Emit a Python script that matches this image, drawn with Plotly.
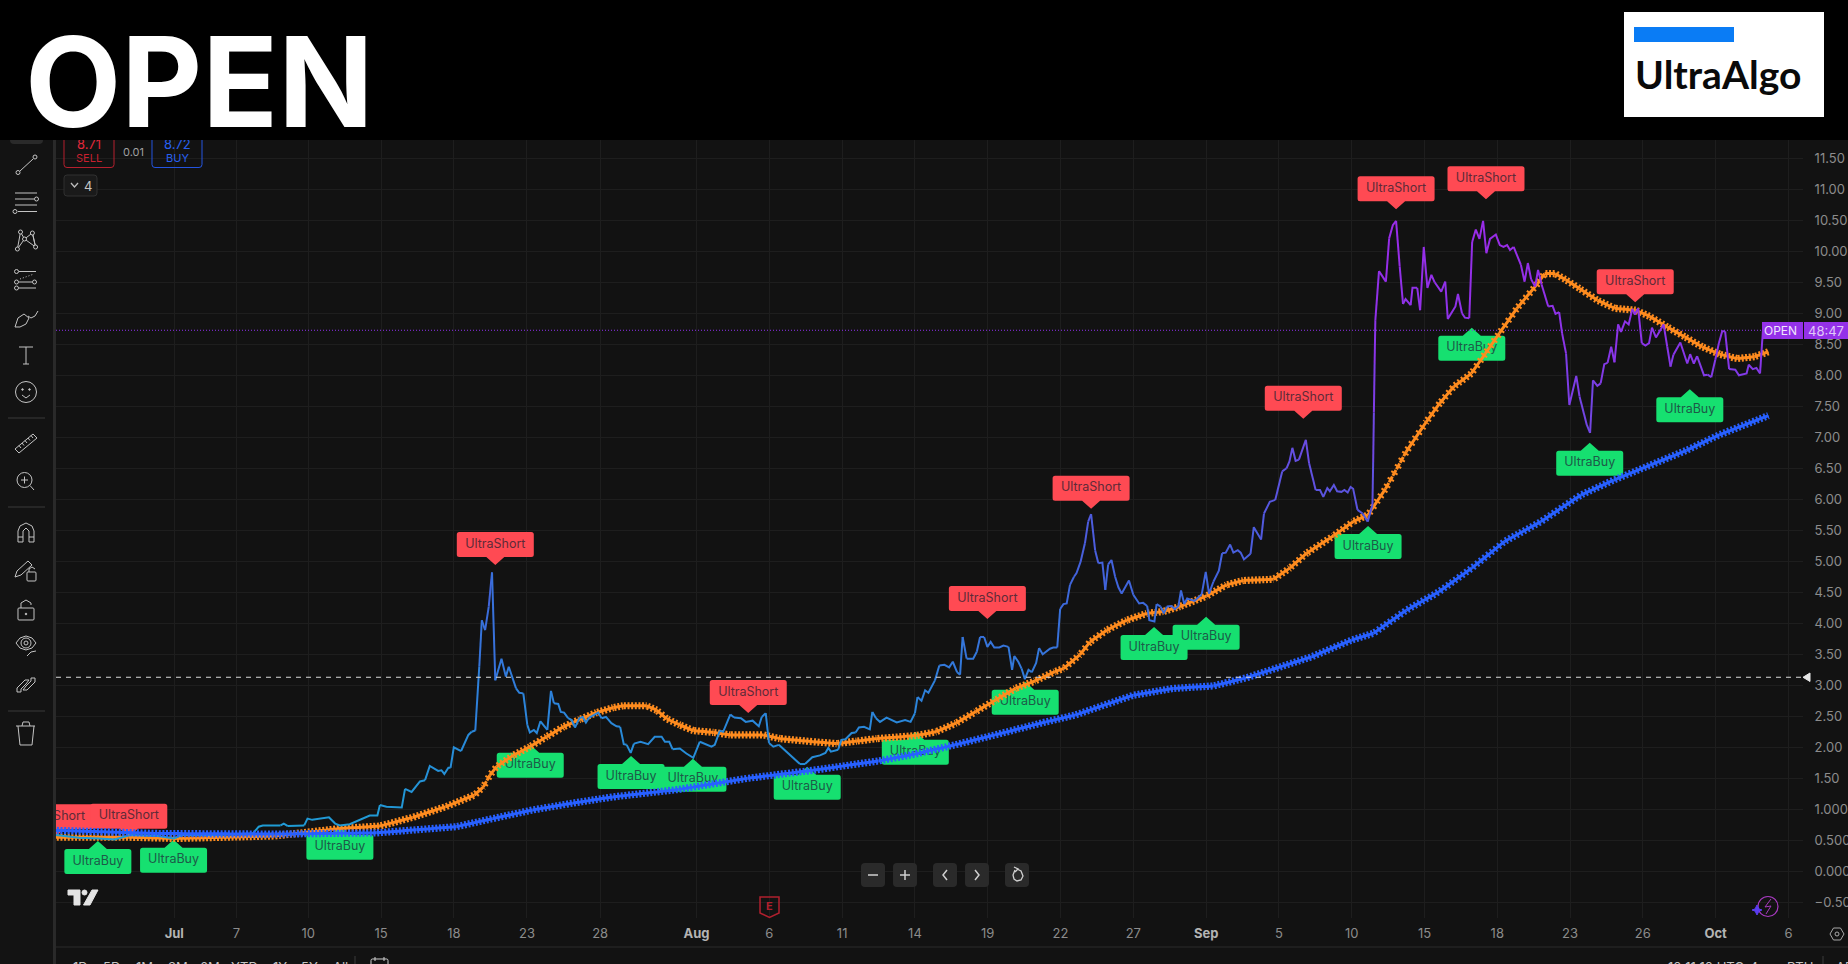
import numpy as np
import plotly.graph_objects as go

W, H = 1848, 964
BG = '#121212'
GRID = '#1e1e1e'
ICON = '#c4c4c4'

# time axis, in bars from the left edge of the chart
tick_bars = [32.5, 49.6, 69.3, 89.3, 109.3, 129.4, 149.5, 176, 196, 216, 236, 256, 276, 296, 316,
             336, 356, 376, 396, 416, 436, 456, 476]
tick_names = ['Jul', '7', '10', '15', '18', '23', '28', 'Aug', '6', '11', '14', '19', '22', '27', 'Sep',
              '5', '10', '15', '18', '23', '26', 'Oct', '6']
month_names = ['Jul', 'Aug', 'Sep', 'Oct']

price_ticks = [-0.5, 0, 0.5, 1, 1.5, 2, 2.5, 3, 3.5, 4, 4.5, 5, 5.5, 6, 6.5, 7, 7.5, 8, 8.5, 9, 9.5, 10, 10.5, 11, 11.5]
price_tick_names = ['−0.5000', '0.0000', '0.5000', '1.0000', '1.50', '2.00', '2.50', '3.00', '3.50', '4.00', '4.50',
                    '5.00', '5.50', '6.00', '6.50', '7.00', '7.50', '8.00', '8.50', '9.00', '9.50', '10.00',
                    '10.50', '11.00', '11.50']

# price line, read vertex by vertex
price_bars = [
    0, 6.3, 11.8, 16.1, 20.4, 28, 32.4, 34.6, 43.3, 54.1, 55.7, 56.8, 61.7, 62.6, 63.7, 68.2, 69.1, 70.4, 72.6, 75,
    76.7, 78, 80.7, 83.4, 86.2, 88.3, 89, 90.8, 95, 95.9, 97.7, 100, 101.4, 102.7, 105, 105.9, 106.7, 107.8, 108.4,
    109.3, 111.3, 113.3, 114.2, 115.2, 116.3, 117, 117.9, 118.9, 119.8, 120.7, 122.4, 123.6, 124.4, 126.4, 127.3,
    128.4, 129.5, 130.2, 131.3, 132.1, 133.1, 135, 136, 136.8, 138, 138.7, 139.6, 140.7, 141.7, 142.6, 143.8, 144.7,
    145.6, 146.5, 147.8, 149, 149.9, 151.1, 152.6, 154, 155, 156, 156.8, 157.9, 158.8, 160.6, 162.7, 164.5, 166.4,
    167.3, 168.5, 169.4, 171.4, 173.2, 175.1, 176.9, 180.1, 181, 182.4, 183.3, 185.3, 186.3, 188.2, 189.5, 191.4,
    193.1, 193.9, 195, 195.9, 197.1, 198.6, 201.2, 204.4, 205.8, 207.8, 209.9, 211.4, 212.2, 212.9, 214.9, 215.8,
    216.9, 218.6, 219.7, 220.6, 222, 223.6, 224.3, 225.3, 226.4, 228.2, 231, 233.3, 234.8, 236, 236.7, 237.8, 238.8,
    239.7, 241.5, 242.7, 244.1, 245.4, 246.4, 247.6, 248.4, 249.1, 250.2, 252, 253, 253.9, 255, 255.9, 256.8, 257.8,
    259.2, 260.3, 261.7, 262.7, 263.3, 264.4, 265.3, 266.2, 267.2, 268.1, 269.3, 270.1, 271.1, 273.1, 274, 275.1,
    275.9, 276.8, 277.7, 278.6, 279.7, 280.4, 281.5, 282.7, 283.6, 284.4, 285.5, 286.4, 287.5, 288.3, 289.1, 290,
    291, 291.9, 292.8, 294.8, 296, 297.6, 298.7, 299.8, 300.4, 301.8, 302.4, 303.5, 304.4, 305.2, 306.5, 307.4,
    308.4, 309.1, 310, 310.8, 312.8, 314.8, 315.9, 316.8, 318, 319.5, 320.4, 321.4, 322.6, 323.5, 324.7, 325.5,
    326.4, 328.2, 329.1, 331.1, 331.9, 333.5, 335, 336.9, 338.1, 338.9, 339.7, 340.6, 341.5, 343.4, 344.3, 346.1,
    347.3, 348.2, 349.3, 350, 351.1, 352, 353.2, 354, 354.9, 355.7, 356.4, 357.6, 359, 360.4, 361.7, 361.9, 362.1,
    362.3, 362.5, 363.5, 365.4, 366.3, 367.3, 368.2, 369.2, 370.1, 370.8, 372.2, 372.7, 374, 374.8, 375.8, 376.8,
    377.9, 378.8, 380.6, 381.7, 382.4, 384.5, 385.2, 386.3, 387.1, 388.3, 389.1, 390.1, 391.1, 392.1, 393, 394,
    395.6, 396.7, 397.7, 398.7, 399.5, 400.5, 402.5, 403.5, 404.4, 405.3, 406.4, 407.2, 408.2, 410, 411.2, 412, 413,
    413.8, 414.9, 415.8, 417.7, 418.6, 420.6, 421.5, 422.3, 423.5, 424.4, 425.4, 426.3, 427.3, 428.2, 429.2, 430,
    431.1, 432.1, 433.1, 433.8, 434.7, 435.7, 436.7, 437.7, 438.5, 439.6, 441.7, 442.7, 443.6, 444.4, 446.3, 448.2,
    449, 450, 450.9, 452.8, 453.8, 454.8, 455.9, 456.9, 457.8, 458.6, 459.7, 461.4, 462.4, 464.5, 465.1, 466.2,
    467.2, 468.2, 469]
price_vals = [
    0.585, 0.54, 0.53, 0.515, 0.585, 0.57, 0.53, 0.585, 0.585, 0.61, 0.72, 0.74, 0.74, 0.77, 0.73, 0.74, 0.85, 0.83, 0.85, 0.87,
    0.77, 0.74, 0.76, 0.83, 0.90, 0.90, 1.07, 1.04, 1.03, 1.33, 1.28, 1.45, 1.47, 1.70, 1.62, 1.63, 1.57, 1.67, 1.67,
    2.00, 1.94, 2.20, 2.25, 2.27, 3.30, 4.05, 3.89, 4.27, 4.82, 3.08, 3.43, 3.14, 3.30, 2.95, 2.88,
    2.87, 2.36, 2.24, 2.28, 2.23, 2.42, 2.28, 2.91, 2.71, 2.70, 2.57, 2.56, 2.47, 2.44, 2.32, 2.47, 2.49,
    2.40, 2.48, 2.52, 2.56, 2.47, 2.49, 2.39, 2.34, 2.33, 2.05, 2.04, 1.91, 2.06, 2.09, 2.05, 2.17, 2.17,
    2.09, 2.09, 1.97, 1.98, 1.90, 1.83, 2.09, 2.01, 2.04, 2.27, 2.25, 2.53, 2.48, 2.47, 2.41, 2.43,
    2.34, 2.49, 2.55, 2.07, 2.01, 2.04, 1.90, 1.73, 1.73, 1.84, 1.87, 1.91, 1.99, 1.93, 1.96, 2.12,
    2.13, 2.23, 2.24, 2.32, 2.33, 2.29, 2.57, 2.47, 2.41, 2.48, 2.40, 2.44, 2.41, 2.55, 2.81, 2.75, 2.92,
    2.88, 3.08, 3.32, 3.33, 3.29, 3.38, 3.21, 3.17, 3.78, 3.43, 3.43, 3.54, 3.78, 3.78, 3.62, 3.70, 3.61,
    3.61, 3.64, 3.62, 3.25, 3.47, 3.38, 3.27, 3.10, 3.25, 3.21, 3.36, 3.60, 3.50, 3.59, 3.61, 3.61,
    4.23, 4.31, 4.32, 4.62, 4.75, 4.81, 4.99, 5.29, 5.64, 5.76, 5.18, 4.97, 4.98, 4.54, 4.95, 5.02,
    4.75, 4.58, 4.48, 4.69, 4.46, 4.32, 4.33, 4.28, 4.05, 4.03, 4.31, 4.27, 4.16, 4.27, 4.28, 4.23,
    4.28, 4.53, 4.31, 4.40, 4.36, 4.47, 4.83, 4.48, 4.67, 4.85, 5.13, 5.14, 5.27, 5.14, 5.18, 5.14,
    5.03, 5.12, 5.55, 5.35, 5.77, 5.96, 5.99, 6.45, 6.50, 6.61, 6.83, 6.62, 6.64, 6.96, 6.58, 6.15,
    6.15, 6.04, 6.18, 6.13, 6.23, 6.13, 6.12, 6.15, 6.11, 6.20, 6.17, 5.83, 5.77, 5.64, 5.91, 6.6, 7.4,
    8.2, 8.89, 9.68, 9.51, 10.21, 10.42, 10.49, 9.75, 9.15, 9.23, 9.13, 9.41, 9.41, 9.05, 10.07, 9.41,
    9.62, 9.50, 9.35, 9.51, 8.91, 9.11, 9.31, 9.00, 8.93, 8.92, 10.15, 10.35, 10.20, 10.49, 9.97, 10.20,
    10.27, 10.10, 10.07, 10.10, 10.02, 10.07, 9.78, 9.51, 9.81, 9.55, 9.43, 9.70, 9.46, 9.11, 9.12, 8.99, 9.02,
    8.68, 8.35, 7.52, 7.99, 7.66, 7.20, 7.07, 7.92, 7.83, 7.87, 8.18, 8.20, 8.46, 8.21, 8.82, 8.70,
    8.87, 8.82, 9.07, 8.98, 9.08, 8.52, 8.48, 8.52, 8.77, 8.61, 8.82, 8.46, 8.14, 8.33, 8.53, 8.19,
    8.34, 8.19, 8.31, 8.00, 8.01, 7.97, 8.25, 8.52, 8.71, 8.71, 8.10, 8.09, 8.00, 8.03, 8.17, 8.10,
    8.12, 8.03, 8.73]

# orange average
fast_bars = [0, 20, 33, 60, 78, 89, 98, 107, 115, 117.4, 119.2, 121.1, 125.6, 130.2, 134.8, 139.4, 143.9, 148.5, 153.1,
             155.8, 162.3, 165, 167.8, 171.4, 175.1, 180.6, 185.2, 194.3, 198.9, 208, 214.5, 220, 225.5, 236.4, 241.8,
             247.3, 252.7, 258.1, 263.6, 269, 274.4, 276.8, 281.3, 284.1, 288.7, 294.2, 299.7, 304.2, 308.8, 316.1,
             321.6, 326.2, 334.5, 339, 343.6, 351, 356.4, 360.5, 365.3, 371, 376.5, 380.2, 384.1, 388.9, 392.7, 396.6,
             401.4, 407.1, 409, 411.9, 414.8, 418.6, 423.5, 428.3, 434, 437.9, 442.7, 447.5, 452.3, 457.1, 461.9, 466.7,
             470.5]
fast_vals = [0.55, 0.55, 0.53, 0.57, 0.69, 0.73, 0.87, 1.04, 1.23, 1.36, 1.55, 1.69, 1.87, 2.01, 2.17, 2.33, 2.45, 2.56, 2.64,
             2.67, 2.67, 2.60, 2.46, 2.36, 2.27, 2.24, 2.20, 2.20, 2.14, 2.09, 2.06, 2.10, 2.14, 2.19, 2.25,
             2.39, 2.575, 2.76, 2.95, 3.07, 3.22, 3.27, 3.49, 3.70, 3.89, 4.05, 4.16, 4.19, 4.27, 4.44,
             4.62, 4.69, 4.71, 4.89, 5.13, 5.41, 5.64, 5.75, 6.17, 6.77, 7.25, 7.55, 7.82, 8.03, 8.35, 8.68,
             9.08, 9.48, 9.64, 9.64, 9.54, 9.40, 9.21, 9.08, 9.05, 8.95, 8.78, 8.62, 8.46, 8.34, 8.27, 8.30,
             8.38]

# blue average
slow_bars = [0, 28, 60, 88, 99, 110, 120, 131, 142, 153, 171, 190, 208, 226, 236, 247, 258, 272, 280, 296, 307, 318, 327,
             345, 356, 362, 371, 380, 389, 398, 408, 419, 428, 438, 448, 457, 470.5]
slow_vals = [0.66, 0.61, 0.60, 0.62, 0.67, 0.72, 0.85, 0.99, 1.10, 1.20, 1.32, 1.50, 1.63, 1.78, 1.89, 2.04, 2.20, 2.41, 2.52,
             2.84, 2.95, 2.99, 3.12, 3.46, 3.73, 3.84, 4.21, 4.51, 4.89, 5.32, 5.64, 6.07, 6.31, 6.55, 6.79, 7.04, 7.35]

# signal flags, centre of each tag
short_bars = [-0.3, 20, 120.7, 190.2, 255.9, 284.4, 342.7, 368.2, 392.9, 433.9]
short_vals = [0.88, 0.89, 5.27, 2.885, 4.40, 6.18, 7.63, 11.01, 11.17, 9.51]
buy_bars = [11.5, 32.3, 78, 130.3, 158, 175, 206.4, 236.1, 266.3, 301.7, 316, 360.5, 389, 421.4, 448.9]
buy_vals = [0.16, 0.18, 0.39, 1.71, 1.53, 1.485, 1.355, 1.92, 2.725, 3.61, 3.775, 5.24, 8.435, 6.58, 7.445]

last_price = 8.726
prev_close = 3.13

# range buttons of the bottom strip, only their tops are on the page
range_names = ['1D', '5D', '1M', '3M', '6M', 'YTD', '1Y', '5Y', 'All']
range_lefts = [72, 102, 135, 167, 199, 230, 272, 300, 332]

PX_PER_BAR = 1747 / 480
PX_PER_UNIT = 778 / 12.548


def px(x):
    return x / W


def py(y):
    return 1 - y / H


def xy(x, y):
    return f'{px(x):.5f} {py(y):.5f}'


shapes = []
annos = []


def seg(x0, y0, x1, y1, color=ICON, width=1, dash=None):
    shapes.append(dict(type='line', xref='paper', yref='paper', x0=px(x0), y0=py(y0), x1=px(x1), y1=py(y1),
                       line=dict(color=color, width=width, dash=dash)))


def ring(cx, cy, r, color=ICON, fill='rgba(0,0,0,0)', width=1):
    shapes.append(dict(type='circle', xref='paper', yref='paper', x0=px(cx - r), x1=px(cx + r), y0=py(cy + r), y1=py(cy - r),
                       line=dict(color=color, width=width), fillcolor=fill))


def poly(points, color=ICON, fill=None, width=1, close=False):
    d = 'M' + ' L'.join(xy(*p) for p in points) + (' Z' if close else '')
    s = dict(type='path', xref='paper', yref='paper', path=d, line=dict(color=color, width=width))
    if fill:
        s['fillcolor'] = fill
    shapes.append(s)


def rrect(x0, y0, x1, y1, r, fill='rgba(0,0,0,0)', line='rgba(0,0,0,0)', width=1):
    d = (f'M{xy(x0 + r, y0)} L{xy(x1 - r, y0)} Q{xy(x1, y0)} {xy(x1, y0 + r)} L{xy(x1, y1 - r)} Q{xy(x1, y1)} {xy(x1 - r, y1)} '
         f'L{xy(x0 + r, y1)} Q{xy(x0, y1)} {xy(x0, y1 - r)} L{xy(x0, y0 + r)} Q{xy(x0, y0)} {xy(x0 + r, y0)} Z')
    shapes.append(dict(type='path', xref='paper', yref='paper', path=d, fillcolor=fill, line=dict(color=line, width=width)))


def label(x, y, text, color='#8c8c8c', size=13, family='Inter', anchor='center', weight=None):
    f = dict(color=color, size=size, family=family)
    if weight:
        f['weight'] = weight
    annos.append(dict(x=px(x), y=py(y), xref='paper', yref='paper', text=text, showarrow=False, xanchor=anchor,
                      yanchor='middle', font=f, borderpad=0))


def block(x0, y0, x1, y1, color):
    # filled box as an annotation so that it sits above the shapes and the text below it
    annos.append(dict(x=px(x0), y=py(y0), xref='paper', yref='paper', text=' ', showarrow=False, xanchor='left',
                      yanchor='top', width=x1 - x0, height=y1 - y0, bgcolor=color, borderpad=0, borderwidth=0))


def flag_path(w, up):
    # tag outline in pixels around its centre, with the pointer above or below
    a, b, r, p = w / 2, 12.5, 2.5, 8
    top = f'L-9 {b} L0 {b + p} L9 {b} ' if up else ''
    bot = f'L9 {-b} L0 {-b - p} L-9 {-b} ' if not up else ''
    return (f'M{-a + r} {b} {top}L{a - r} {b} Q{a} {b} {a} {b - r} L{a} {-b + r} Q{a} {-b} {a - r} {-b} {bot}'
            f'L{-a + r} {-b} Q{-a} {-b} {-a} {-b + r} L{-a} {b - r} Q{-a} {b} {-a + r} {b} Z')


# flags under the lines
for x, y in zip(short_bars, short_vals):
    shapes.append(dict(type='path', layer='between', xref='x', yref='y', xsizemode='pixel', ysizemode='pixel', xanchor=x, yanchor=y,
                       path=flag_path(77, False), fillcolor='#ff4a53', line=dict(width=0)))
for x, y in zip(buy_bars, buy_vals):
    shapes.append(dict(type='path', layer='between', xref='x', yref='y', xsizemode='pixel', ysizemode='pixel', xanchor=x, yanchor=y,
                       path=flag_path(67, True), fillcolor='#16e070', line=dict(width=0)))

# level lines
shapes.append(dict(type='line', layer='between', xref='x', yref='y', x0=0, x1=469, y0=last_price, y1=last_price,
                   line=dict(color='#8f2ff0', width=1, dash='1px,2px')))
shapes.append(dict(type='line', xref='x', yref='y', x0=0, x1=480, y0=prev_close, y1=prev_close,
                   line=dict(color='#dcdcdc', width=1, dash='5px,5px')))
poly([(1803, 677.3), (1810, 673), (1810, 681.5)], color='#e8e8e8', fill='#e8e8e8', close=True)

# left toolbar
rrect(0, 0, 53, H, 0, fill='#131313')
rrect(53, 0, 56, H, 0, fill='#2a2a2a')
rrect(10, 130, 43, 144, 4, fill='#2a2a2a')
seg(20, 171, 33, 159)
ring(18, 172.5, 2)
ring(35, 157, 2)
for yy in (193, 205):
    seg(15, yy, 37, yy)
seg(15, 199, 34, 199)
seg(18, 211.5, 37, 211.5)
ring(36.5, 199, 2)
ring(15, 211.5, 2)
poly([(20.5, 232), (24.5, 239), (32.4, 233), (35.6, 247), (24.5, 239), (17.4, 249), (20.5, 232)])
poly([(32.4, 233), (35.6, 247)])
for c in ((20.5, 232), (32.4, 233), (24.5, 239), (17.4, 249), (35.6, 247)):
    ring(c[0], c[1], 2, fill='#131313')
seg(19, 271.5, 36, 271.5)
seg(19, 282, 32, 282)
seg(19, 288, 36, 288)
seg(20, 279, 34, 274, dash='1px,2px')
ring(16.5, 271.5, 2)
ring(16.5, 282, 2)
ring(16.5, 288, 2)
ring(34.5, 282, 2)
poly([(15, 327), (18, 318), (24, 314), (29, 318), (26, 324), (20, 327), (15, 327)])
poly([(28, 316), (31, 318), (35, 316), (38, 311)])
seg(19, 347, 33, 347)
seg(26, 347, 26, 364)
seg(23, 364, 29, 364)
ring(26, 392, 10.5)
ring(22.5, 389.5, 0.8, fill=ICON)
ring(29.5, 389.5, 0.8, fill=ICON)
poly([(22, 395), (26, 398), (30, 395)])
seg(8, 418, 45, 418, color='#3a3a3a')
poly([(15, 449), (33, 434), (37, 438), (19, 453), (15, 449)])
for i in range(5):
    seg(19 + 3 * i, 445.5 - 2.5 * i, 21 + 3 * i, 448 - 2.5 * i)
ring(24.5, 480, 7.5)
seg(30, 485.5, 34, 490)
seg(21, 480, 28, 480)
seg(24.5, 476.5, 24.5, 483.5)
seg(8, 507, 45, 507, color='#3a3a3a')
poly([(18, 542), (18, 531), (20, 526), (26, 523), (32, 526), (34, 531), (34, 542), (29, 542), (29, 531), (26, 528), (23, 531),
      (23, 542), (18, 542)])
seg(18, 537, 23, 537)
seg(29, 537, 34, 537)
poly([(15, 577), (17, 571), (28, 561), (32, 565), (21, 575), (15, 577)])
rrect(27, 572, 36, 581, 1, line=ICON)
poly([(29, 572), (29, 569), (32, 567), (35, 569)])
rrect(18, 608, 34, 620, 1, line=ICON)
poly([(21, 608), (21, 603), (26, 600), (31, 603), (31, 605)])
ring(26, 614, 0.8, fill=ICON)
poly([(16, 643), (20, 638), (26, 636), (32, 638), (36, 643), (32, 648), (26, 650), (20, 648), (16, 643)])
ring(26, 643, 5)
ring(26, 643, 2)
poly([(27, 656), (31, 652), (36, 651)])
poly([(17, 692), (17, 688), (25, 680), (29, 680), (26, 684), (21, 689), (21, 692), (17, 692)])
poly([(35, 678), (35, 682), (27, 690), (23, 690), (26, 686), (31, 681), (31, 678), (35, 678)])
seg(8, 711, 45, 711, color='#3a3a3a')
seg(16, 726, 35, 726)
poly([(22, 726), (23, 722), (29, 722), (30, 726)])
poly([(18, 726), (20, 745), (32, 745), (34, 726)])

# order ticket and watermarks
rrect(64, 130, 114, 167.5, 3, line='#b5202e')
rrect(152, 130, 202, 167.5, 3, line='#2454e0')
rrect(64, 175, 97, 196, 3, fill='#1a1a1a', line='#303030')
poly([(71, 183), (74.5, 187), (78, 183)], color='#bcbcbc', width=1.3)
poly([(68, 890), (80, 890), (80, 905), (74, 905), (74, 895), (68, 895)], color='#e4e4e4', fill='#e4e4e4', close=True)
ring(84.5, 892.5, 2.5, color='#e4e4e4', fill='#e4e4e4')
poly([(92, 890), (98, 890), (90, 905), (83.5, 905)], color='#e4e4e4', fill='#e4e4e4', close=True)
poly([(760, 897), (779, 897), (779, 913), (769.5, 917.5), (760, 913)], color='#b0202e', width=1.5, close=True)
ring(1768, 906.5, 10, color='#a83ac0', width=1.2)
poly([(1771, 899), (1765, 907), (1771, 906), (1766, 914)], color='#a83ac0')
poly([(1757, 905), (1759, 909), (1762, 910), (1759, 911), (1757, 915), (1755, 911), (1752, 910), (1755, 909)],
     color='#5a3cf0', fill='#5a3cf0', close=True)

# chart buttons
for x0, x1 in ((861, 885), (893, 917), (933, 957), (965, 989), (1005, 1029)):
    rrect(x0, 863, x1, 887, 4, fill='#2a2a2a')
seg(868, 875, 878, 875, color='#d0d0d0', width=1.5)
seg(900, 875, 910, 875, color='#d0d0d0', width=1.5)
seg(905, 870, 905, 880, color='#d0d0d0', width=1.5)
poly([(947, 870), (943, 875), (947, 880)], color='#d0d0d0', width=1.5)
poly([(975, 870), (979, 875), (975, 880)], color='#d0d0d0', width=1.5)
poly([(1015, 870), (1013, 875), (1014, 879), (1017, 881), (1021, 880), (1023, 876), (1021, 871), (1017, 869)], color='#d0d0d0', width=1.3)
poly([(1014, 867), (1018, 869), (1015, 872)], color='#d0d0d0', width=1.3)

# bottom strip
seg(56, 947, W, 947, color='#2a2a2a')
seg(355, 956, 355, H, color='#3a3a3a')
seg(1823, 956, 1823, H, color='#3a3a3a')
rrect(371, 959, 388, 975, 1.5, line='#d0d0d0')
seg(375, 957, 375, 961, color='#d0d0d0')
seg(384, 957, 384, 961, color='#d0d0d0')
poly([(1830, 934), (1833.5, 928), (1840.5, 928), (1844, 934), (1840.5, 940), (1833.5, 940)], color='#a8a8a8', close=True)
ring(1837, 934, 2, color='#a8a8a8')

# text inside the chart chrome; the header block below then cuts the top of the ticket
label(89, 144, '8.71', '#e0283a', 13)
label(89, 158, 'SELL', '#c8202f', 11)
label(133, 152, '0.01', '#a0a0a0', 11)
label(177, 144, '8.72', '#2860f0', 13)
label(177, 158, 'BUY', '#2860f0', 11)
label(88, 186, '4', '#c4c4c4', 13)
label(769.5, 906, 'E', '#b0202e', 11, weight=700)
for name, left in zip(range_names, range_lefts):
    label(left, 966.5, name, '#c4c4c4', 13, anchor='left')
label(1667, 966.5, '10:11:10 UTC-4', '#c4c4c4', 13, anchor='left')
label(1786, 966.5, 'RTH', '#c4c4c4', 13, anchor='left')
label(1835, 966.5, 'AD', '#c4c4c4', 13, anchor='left')

# price tag on the right
block(1762, 322, 1803, 339, '#9431e8')
block(1804, 322, W, 339, '#9431e8')
label(1798, 330.5, 'OPEN', '#f0e4fc', 12, anchor='right')
label(1826, 330.5, '48:47', '#e0c8f8', 13)

# header and logo stay on top of everything
block(0, 0, W, 140, '#000000')
label(24, 81, '<b>OPEN</b>', '#ffffff', 125, family='Inter', anchor='left')
block(1624, 12, 1824, 117, '#ffffff')
block(1634, 27, 1734, 42, '#0a7cf5')
label(1634, 74, '<b>UltraAlgo</b>', '#0a0a0a', 39, family='Lato', anchor='left')

fig = go.Figure()

# flag texts go first so that the lines run across them
fig.add_trace(go.Scatter(x=short_bars, y=short_vals, mode='text', text=['UltraShort'] * len(short_bars), hoverinfo='skip',
                         textfont=dict(family='Inter', size=12.5, color='#5e2a38')))
fig.add_trace(go.Scatter(x=buy_bars, y=buy_vals, mode='text', text=['UltraBuy'] * len(buy_bars), hoverinfo='skip',
                         textfont=dict(family='Inter', size=12.5, color='#1d5a48')))


def average_line(bars, vals, color):
    # crosses along the average, one per bar: a dashed thin line with a wide dashed one on top,
    # the dash period follows the slope so the crosses stay a bar apart
    for i in range(len(bars) - 1):
        dx = (bars[i + 1] - bars[i]) * PX_PER_BAR
        dy = (vals[i + 1] - vals[i]) * PX_PER_UNIT
        period = PX_PER_BAR * np.hypot(dx, dy) / dx
        on = min(6.6, period)
        fig.add_trace(go.Scatter(x=bars[i:i + 2], y=vals[i:i + 2], mode='lines', hoverinfo='skip',
                                 line=dict(color=color, width=3, dash=f'{on:.2f}px,{period - on:.2f}px')))
        fig.add_trace(go.Scatter(x=bars[i:i + 2], y=vals[i:i + 2], mode='lines', hoverinfo='skip',
                                 line=dict(color=color, width=7.2,
                                           dash=f'0px,{on / 2 - 1:.2f}px,2px,{period - on / 2 - 1:.2f}px')))


average_line(fast_bars, fast_vals, '#ff8c1f')

# the price line changes colour with the price level
color_levels = [0.5, 2.5, 4.8, 6.9, 8.5, 10.5]
color_r = [31, 43, 66, 106, 138, 156]
color_g = [158, 134, 99, 76, 53, 44]
color_b = [212, 218, 220, 226, 232, 232]
band = np.floor((np.array(price_vals[:-1]) + np.array(price_vals[1:])) / 2 / 0.25).astype(int)
start = 0
for i in range(1, len(band) + 1):
    if i == len(band) or band[i] != band[start]:
        mid = (band[start] + 0.5) * 0.25
        col = 'rgb(%d,%d,%d)' % (np.interp(mid, color_levels, color_r), np.interp(mid, color_levels, color_g),
                                 np.interp(mid, color_levels, color_b))
        fig.add_trace(go.Scatter(x=price_bars[start:i + 1], y=price_vals[start:i + 1], mode='lines',
                                 line=dict(color=col, width=2), hoverinfo='skip'))
        start = i

average_line(slow_bars, slow_vals, '#2860ff')

tick_text = [f'<b><span style="color:#b4b4b4">{t}</span></b>' if t in month_names else t for t in tick_names]

fig.update_layout(
    width=W, height=H, margin=dict(l=0, r=0, t=0, b=0, autoexpand=False), showlegend=False, hovermode=False,
    paper_bgcolor=BG, plot_bgcolor=BG, shapes=shapes, annotations=annos,
    font=dict(family='Inter', size=13, color='#8c8c8c'),
    xaxis=dict(domain=[px(56), px(1803)], range=[0, 480], tickmode='array', tickvals=tick_bars, ticktext=tick_text,
               showgrid=True, gridcolor=GRID, gridwidth=1, zeroline=False, showline=False, ticks='outside', ticklen=3,
               tickcolor='rgba(0,0,0,0)', tickfont=dict(family='Inter', size=13, color='#8c8c8c')),
    yaxis=dict(domain=[py(918), py(140)], range=[-0.753, 11.795], side='right', tickmode='array', tickvals=price_ticks,
               ticktext=price_tick_names, showgrid=True, gridcolor=GRID, gridwidth=1, zeroline=False, showline=False,
               ticks='outside', ticklen=8, tickcolor='rgba(0,0,0,0)', tickfont=dict(family='Inter', size=13, color='#8c8c8c')),
)

fig.write_html('out.html', config=dict(displayModeBar=False),
               post_script="document.body.style.margin='0';document.body.style.background='#121212';")
